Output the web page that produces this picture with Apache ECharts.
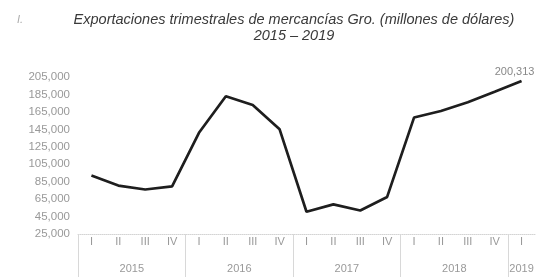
<!DOCTYPE html>
<html>
<head>
<meta charset="utf-8">
<script src="https://cdn.jsdelivr.net/npm/echarts@6/dist/echarts.min.js"></script>
<style>
  html, body { margin: 0; padding: 0; background: #fff; }
  #chart { width: 548px; height: 277px; }
</style>
</head>
<body>
<div id="chart"></div>
<script>
// trimestres y valores (millones de dólares)
var quarters = ['I', 'II', 'III', 'IV', 'I', 'II', 'III', 'IV', 'I', 'II', 'III', 'IV', 'I', 'II', 'III', 'IV', 'I']
var exportValues = [92000, 80500, 76000, 79500, 141000, 183000, 173000, 145000, 50500, 59000, 52000, 67500, 158500, 166000, 176000, 188000, 200313]
var years = ['2015', '2016', '2017', '2018', '2019']
var quartersPerYear = [4, 4, 4, 4, 1]
var yTicks = [25000, 45000, 65000, 85000, 105000, 125000, 145000, 165000, 185000, 205000]

// posiciones de los años y separadores sobre un eje de 0..n
var yearCenters = []
var yearBounds = [0]
var acc = 0
quartersPerYear.forEach(function (n) {
  yearCenters.push(acc + n / 2)
  acc += n
  yearBounds.push(acc)
})
var last = exportValues.length - 1

var chart = echarts.init(document.getElementById('chart'))

chart.setOption({
  animation: false,
  title: [{
    text: 'Exportaciones trimestrales de mercancías Gro. (millones de dólares)\n2015 – 2019',
    left: 289,
    top: 7,
    textAlign: 'center',
    textStyle: {
      fontFamily: 'Liberation Sans',
      fontStyle: 'italic',
      fontWeight: 'normal',
      fontSize: 14.5,
      lineHeight: 16,
      color: '#3a3a3a'
    }
  }, {
    text: 'I.',
    left: 12,
    top: 9,
    textStyle: {
      fontFamily: 'Liberation Sans',
      fontStyle: 'italic',
      fontWeight: 'normal',
      fontSize: 11,
      color: '#aaa'
    }
  }],
  grid: {
    left: 78,
    right: 13,
    top: 77,
    bottom: 43
  },
  xAxis: [{
    type: 'category',
    data: quarters,
    boundaryGap: true,
    axisLine: {
      lineStyle: { color: '#d4d4d4', type: 'dotted', width: 1 }
    },
    axisTick: { show: false },
    axisLabel: {
      margin: 2,
      fontSize: 11,
      fontFamily: 'Liberation Sans',
      color: '#999'
    }
  }, {
    type: 'value',
    position: 'bottom',
    min: 0,
    max: acc,
    splitLine: { show: false },
    axisLine: { show: false },
    axisTick: {
      show: true,
      length: 44,
      customValues: yearBounds.slice(0, yearBounds.length - 1),
      lineStyle: { color: '#d8d8d8', width: 1 }
    },
    axisLabel: {
      margin: 29,
      fontSize: 11,
      fontFamily: 'Liberation Sans',
      color: '#999',
      customValues: yearCenters,
      formatter: function (v) {
        return years[yearCenters.indexOf(v)]
      }
    }
  }],
  yAxis: {
    type: 'value',
    min: yTicks[0],
    max: yTicks[yTicks.length - 1],
    interval: 20000,
    axisLine: { show: false },
    axisTick: { show: false },
    splitLine: { show: false },
    axisLabel: {
      margin: 8,
      fontSize: 11.5,
      fontFamily: 'Liberation Sans',
      color: '#999',
      formatter: function (v) {
        return v.toLocaleString('en-US')
      }
    }
  },
  series: [{
    type: 'line',
    data: exportValues,
    showSymbol: false,
    symbol: 'none',
    lineStyle: { color: '#1e1e1e', width: 2.7 },
    markPoint: {
      symbol: 'circle',
      symbolSize: 0,
      data: [{ coord: [last, exportValues[last]], value: exportValues[last] }],
      label: {
        show: true,
        position: 'top',
        offset: [-7, 1],
        fontSize: 11,
        fontFamily: 'Liberation Sans',
        color: '#888',
        formatter: function (p) {
          return Number(p.value).toLocaleString('en-US')
        }
      }
    }
  }]
})
</script>
</body>
</html>
